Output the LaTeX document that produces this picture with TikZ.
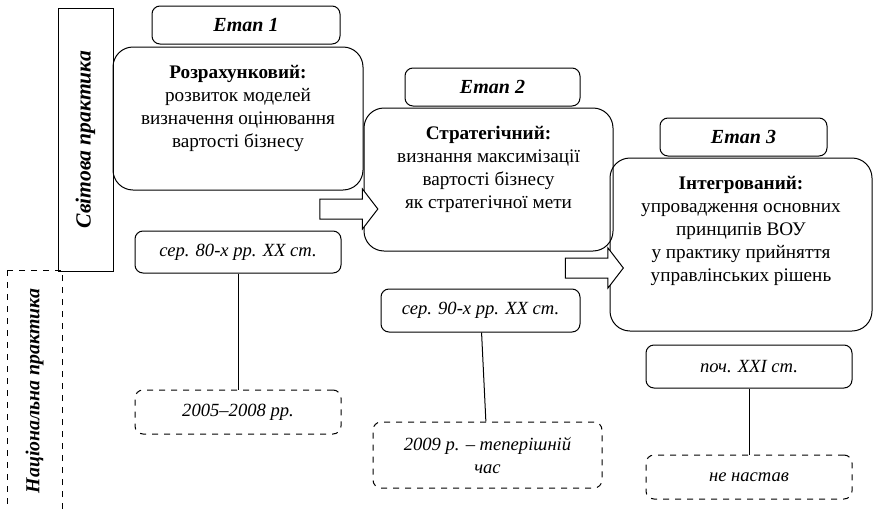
\documentclass[tikz,border=0pt]{standalone}
\usepackage{fontspec}
\setmainfont{Liberation Serif}
\usetikzlibrary{positioning,shapes.arrows}
\newcommand{\phasetext}[3]{\parbox[c][#1][t]{#2}{\centering\vspace*{9pt}#3}}

\begin{document}
\begin{tikzpicture}[x=0.5pt,y=-0.5pt,line width=0.5pt,
    every node/.style={font=\fontsize{9.6}{11.5}\selectfont},
    phase/.style={draw,rounded corners=10pt,inner sep=0pt},
    stagebox/.style={draw,rounded corners=4pt,minimum height=19pt,font=\fontsize{10}{11.5}\selectfont\bfseries\itshape},
    datebox/.style={draw,rounded corners=4pt,minimum height=21pt,font=\fontsize{9.3}{11.5}\selectfont\itshape},
    natdate/.style={datebox,dashed},
    practice/.style={draw,rotate=90,minimum height=27.5pt,font=\fontsize{10.8}{12}\selectfont\bfseries\itshape},
    blockarrow/.style={draw,fill=white,single arrow,single arrow head extend=5pt,single arrow tip angle=105,inner xsep=0pt,inner ysep=4.75pt,minimum height=29pt}]
      \useasboundingbox (0,0) rectangle (890,509);
      % practice columns
      \node[practice,minimum width=131.5pt] (world) at (85.5,139.5) {Світова практика};
      \node[practice,dashed,minimum width=121pt,font=\fontsize{9.9}{12}\selectfont\bfseries\itshape] (natl) at (34.5,391) {Національна практика};
      % phases
      \node[phase] (ph1) at (238,118.5) {\phasetext{71.5pt}{125pt}{\textbf{Розрахунковий:}\\розвиток моделей\\визначення оцінювання\\вартості бізнесу}};
      \node[phase] (ph2) at (488.5,179.5) {\phasetext{71.5pt}{124.5pt}{\textbf{Стратегічний:}\\визнання максимізації\\вартості бізнесу\\як стратегічної мети}};
      \node[phase] (ph3) at (741,244.5) {\phasetext{86.5pt}{131pt}{\textbf{Інтегрований:}\\упровадження основних\\принципів ВОУ\\у практику прийняття\\управлінських рішень}};
      \node[stagebox,minimum width=94pt,above=1pt of ph1,xshift=4pt] (st1) {Етап 1};
      \node[stagebox,minimum width=87.5pt,above=0.5pt of ph2,xshift=2pt] (st2) {Етап 2};
      \node[stagebox,minimum width=83.5pt,above=0.5pt of ph3,xshift=1.25pt] (st3) {Етап 3};
      % dates
      \node[datebox,minimum width=103pt,below=20pt of ph1] (d1) {сер. 80-х рр. XX ст.};
      \node[natdate,minimum width=103pt,minimum height=22pt,below=58pt of d1] (n1) {2005–2008 рр.};
      \node[datebox,minimum width=99.5pt,minimum height=21.5pt,below=18.5pt of ph2,xshift=-4pt] (d2) {сер. 90-х рр. XX ст.};
      \node[natdate,minimum width=114.5pt,minimum height=33pt,align=center,below=44.5pt of d2,xshift=3.5pt] (n2) {2009 р. – теперішній\\час};
      \node[datebox,minimum width=103pt,minimum height=21.5pt,below=6.5pt of ph3,xshift=4pt] (d3) {поч. XXI ст.};
      \node[natdate,minimum width=103pt,minimum height=22pt,below=33pt of d3] (n3) {не настав};
      \draw (d1) -- (n1);
      \draw (d2) -- (n2);
      \draw (d3) -- (n3);
      % transitions
      \node[blockarrow] (arr1) at (345,209) {};
      \node[blockarrow] (arr2) at (590.5,268) {};
    \end{tikzpicture}
\end{document}
